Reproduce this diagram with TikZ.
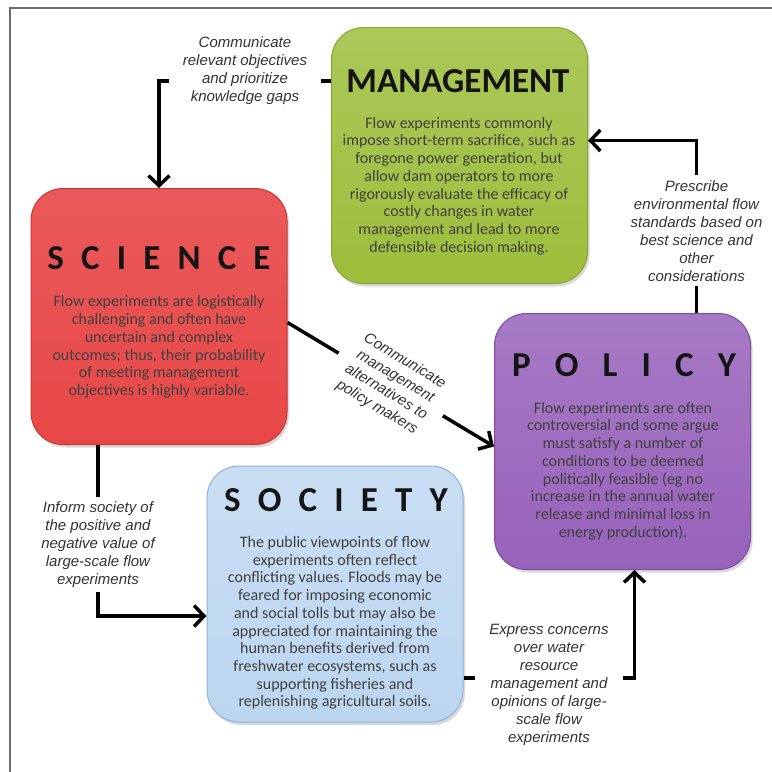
\documentclass[tikz,border=0pt]{standalone}
\usepackage{fontspec}
\setmainfont{Carlito}
\newfontfamily\lblfont{Liberation Sans}
\usetikzlibrary{arrows.meta,shadows}

\definecolor{mgreen}{HTML}{9DBE3C}
\definecolor{mgreenb}{HTML}{88A62F}
\definecolor{sred}{HTML}{E84747}
\definecolor{sredb}{HTML}{C93636}
\definecolor{ppurple}{HTML}{9762BB}
\definecolor{ppurpleb}{HTML}{7E4BA0}
\definecolor{sblue}{HTML}{BCD6F0}
\definecolor{sblueb}{HTML}{8FB2DB}
\definecolor{frame}{HTML}{6B6B6B}

\newcommand{\lsp}{\hspace{0.49em}}
\newcommand{\lspw}{\hspace{0.69em}}

\begin{document}
\begin{tikzpicture}[x=1pt,y=-1pt,
  box/.style={rounded corners=32pt,minimum width=256pt,minimum height=256pt,line width=1pt,
    drop shadow={opacity=0.3,shadow xshift=2pt,shadow yshift=-3pt}},
  title/.style={font=\fontsize{35}{40}\selectfont\bfseries,text=black!92},
  body/.style={font=\fontsize{16}{17.7}\selectfont,align=center,text=black!75},
  lbl/.style={font=\lblfont\itshape\fontsize{15}{18}\selectfont,align=center,text=black!80,
    fill=white,inner xsep=14pt,inner ysep=5pt},
  conn/.style={line width=3.5pt,-{Straight Barb[length=10pt,width=21pt]}}
]
\useasboundingbox (0,0) rectangle (772,772);
\draw[frame,line width=2pt] (772,8) -- (10,8) -- (10,772);

\node[box,draw=mgreenb,top color=mgreen!85!white,bottom color=mgreen] (mgmt) at (459.5,155.5) {};
\node[box,draw=sredb,top color=sred!90!white,bottom color=sred] (sci) at (159,316.5) {};
\node[box,draw=ppurpleb,top color=ppurple!85!white,bottom color=ppurple] (pol) at (622.5,441.5) {};
\node[box,draw=sblueb,top color=sblue!80!white,bottom color=sblue] (soc) at (335,594) {};

\node[title] (mgmttitle) at (458,81) {MANAGEMENT};
\node[body] (mgmtbody) at (459,186) {Flow experiments commonly\\impose short-term sacrifice, such as\\
  foregone power generation, but\\allow dam operators to more\\rigorously evaluate the efficacy of\\
  costly changes in water\\management and lead to more\\defensible decision making.};

\node[title] (scititle) at (159,258) {S\lsp C\lsp I\lsp E\lsp N\lsp C\lsp E};
\node[body] (scibody) at (159,347) {Flow experiments are logistically\\challenging and often have\\
  uncertain and complex\\outcomes; thus, their probability\\of meeting management\\
  objectives is highly variable.};

\node[title] (poltitle) at (624,365) {P\lspw O\lspw L\lspw I\lspw C\lspw Y};
\node[body] (polbody) at (623,471) {Flow experiments are often\\controversial and some argue\\
  must satisfy a number of\\conditions to be deemed\\politically feasible (eg no\\
  increase in the annual water\\release and minimal loss in\\energy production).};

\node[title] (soctitle) at (336,500) {S\lsp O\lsp C\lsp I\lsp E\lsp T\lsp Y};
\node[body] (socbody) at (335,623) {The public viewpoints of flow\\experiments often reflect\\
  conflicting values. Floods may be\\feared for imposing economic\\and social tolls but may also be\\
  appreciated for maintaining the\\human benefits derived from\\freshwater ecosystems, such as\\
  supporting fisheries and\\replenishing agricultural soils.};

\draw[conn] (mgmttitle -| mgmt.west) -| (sci.north)
  node[lbl,pos=0.25,yshift=10pt] (commu) {Communicate\\relevant objectives\\and prioritize\\knowledge gaps};
\draw[conn] ([xshift=74pt]pol.north) |- ([yshift=15pt]mgmt.east)
  node[lbl,pos=0.25,yshift=-4pt] (prescribe) {Prescribe\\environmental flow\\standards based on\\best science and\\other\\considerations};
\draw[conn] ([yshift=-6pt]sci.east) -- ([yshift=-5pt]pol.west)
  node[lbl,midway,sloped] (alter) {Communicate\\management\\alternatives to\\policy makers};
\draw[conn] ([xshift=-61pt]sci.south) |- ([yshift=-22pt]soc.west)
  node[lbl,pos=0.25,yshift=-14pt] (inform) {Inform society of\\the positive and\\negative value of\\large-scale flow\\experiments};
\draw[conn] ([yshift=-84pt]soc.east) -| ([xshift=12pt]pol.south)
  node[lbl,pos=0.25,yshift=-7pt] (express) {Express concerns\\over water\\resource\\management and\\opinions of large-\\scale flow\\experiments};

\end{tikzpicture}
\end{document}
